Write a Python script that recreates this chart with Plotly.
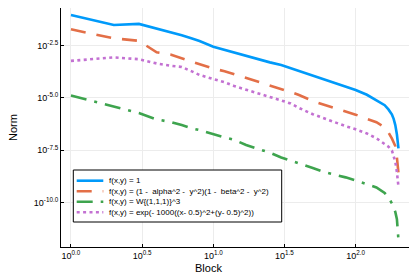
import numpy as np
import plotly.graph_objects as go

# ---- data (values are log10 of the norm) ----
blocks = [1, 2, 3, 4, 5, 6, 7, 8, 10, 12, 14, 17, 20, 25, 30, 35, 40, 50, 60, 70,
          85, 100, 120, 140, 160, 170, 180, 185, 190, 195, 198, 200]

ones_log10 = [-1.03, -1.51, -1.46, -1.68, -1.83, -2.0, -2.15, -2.28, -2.55, -2.7, -2.83,
              -3.0, -3.15, -3.3, -3.43, -3.58, -3.70, -3.95, -4.12, -4.28, -4.45, -4.62,
              -4.85, -5.1, -5.35, -5.55, -5.8, -6.0, -6.3, -6.75, -7.1, -7.41]

poly_log10 = [-1.72, -2.15, -2.27, -2.82, -2.93, -3.1, -3.27, -3.38, -3.6, -3.72, -3.86,
              -4.05, -4.2, -4.4, -4.57, -4.72, -4.86, -5.15, -5.33, -5.47, -5.68, -5.8,
              -6.0, -6.16, -6.4, -6.65, -6.95, -7.12, -7.3, -7.85, -8.3, -8.6]

w_log10 = [-4.89, -5.42, -5.72, -6.03, -6.15, -6.3, -6.45, -6.54, -6.74, -6.89, -7.0,
           -7.25, -7.41, -7.62, -7.85, -8.0, -8.1, -8.35, -8.54, -8.65, -8.8, -8.95,
           -9.12, -9.28, -9.55, -9.75, -10.05, -10.25, -10.45, -10.8, -11.3, -11.8]

exp_log10 = [-3.23, -3.06, -3.15, -3.35, -3.46, -3.52, -3.72, -3.9, -4.1, -4.25, -4.43,
             -4.6, -4.74, -4.97, -5.12, -5.27, -5.48, -5.78, -5.98, -6.15, -6.35, -6.5,
             -6.7, -6.93, -7.18, -7.33, -7.52, -7.75, -8.05, -8.55, -8.9, -9.25]

series_names = [
    "f(x,y) = 1",
    "f(x,y) = (1 -\u00a0 alpha^2 -\u00a0 y^2)(1 -\u00a0 beta^2 -\u00a0 y^2)",
    "f(x,y) = W{(1,1,1)}^3",
    "f(x,y) = exp(- 1000((x- 0.5)^2+(y- 0.5)^2))",
]
series_values = [ones_log10, poly_log10, w_log10, exp_log10]

x_tick_exps = [0.0, 0.5, 1.0, 1.5, 2.0]
y_tick_exps = [-2.5, -5.0, -7.5, -10.0]

# ---- styles ----
colors = ["#009AFA", "#E36F47", "#3EA44E", "#C371D2"]
dashes = ["solid", "15px,11px", "16px,8px,3px,8px", "3px,3.4px"]
FONT = "Liberation Sans, Arial, Helvetica, sans-serif"

W, H = 417, 278
ML, MR, MT, MB = 61, 8, 8, 31
PW, PH = W - ML - MR, H - MT - MB

fig = go.Figure()
for name, vals, c, d in zip(series_names, series_values, colors, dashes):
    fig.add_trace(go.Scatter(
        x=blocks, y=np.power(10.0, np.array(vals)), mode="lines", name=name,
        line=dict(color=c, width=2.6, dash=d), showlegend=False))

axis_common = dict(
    type="log", showline=True, linecolor="#000000", linewidth=1, mirror=False,
    ticks="inside", ticklen=3, tickcolor="#000000", tickwidth=1,
    showgrid=True, gridcolor="#ececec", gridwidth=0.6, zeroline=False,
    tickfont=dict(family=FONT, size=9, color="#000000"),
)

fig.update_xaxes(
    **axis_common,
    range=[-0.07, 2.375],
    tickmode="array",
    tickvals=[10 ** e for e in x_tick_exps],
    ticktext=["10<sup>%.1f</sup>" % e for e in x_tick_exps],
)
fig.update_yaxes(
    **axis_common,
    range=[-12.13, -0.70],
    tickmode="array",
    tickvals=[10 ** e for e in y_tick_exps],
    ticktext=["10<sup>%.1f</sup>" % e for e in y_tick_exps],
)

def px_x(p):
    return (p - ML) / PW

def px_y(p):
    return (H - MB - p) / PH

# axis titles placed like the reference
annotations = [
    dict(xref="paper", yref="paper", x=px_x(208), y=px_y(268), xanchor="center", yanchor="middle",
         showarrow=False, text="Block", font=dict(family=FONT, size=11, color="#000000")),
    dict(xref="paper", yref="paper", x=px_x(13), y=px_y(128), xanchor="center", yanchor="middle",
         showarrow=False, text="Norm", textangle=-90, font=dict(family=FONT, size=11, color="#000000")),
]

# ---- hand-built legend (compact like the reference) ----
shapes = [dict(type="rect", xref="paper", yref="paper",
               x0=px_x(73.3), x1=px_x(281.7), y0=px_y(222), y1=px_y(170),
               line=dict(color="#000000", width=1), fillcolor="#ffffff", layer="above")]
entry_y = [180.7, 191.3, 201.7, 212.3]
for name, c, d, yy in zip(series_names, colors, dashes, entry_y):
    shapes.append(dict(type="line", xref="paper", yref="paper",
                       x0=px_x(76.7), x1=px_x(103.3), y0=px_y(yy), y1=px_y(yy),
                       line=dict(color=c, width=2.6, dash=d), layer="above"))
    annotations.append(dict(xref="paper", yref="paper", x=px_x(107.3), y=px_y(yy),
                            xanchor="left", yanchor="middle", showarrow=False,
                            text=name, font=dict(family=FONT, size=8, color="#000000")))

fig.update_layout(
    width=W, height=H,
    margin=dict(l=ML, r=MR, t=MT, b=MB),
    paper_bgcolor="#ffffff", plot_bgcolor="#ffffff",
    showlegend=False,
    shapes=shapes, annotations=annotations,
    font=dict(family=FONT),
)

fig.write_html("out.html", config={"displayModeBar": False},
               post_script="document.body.style.margin='0';")
